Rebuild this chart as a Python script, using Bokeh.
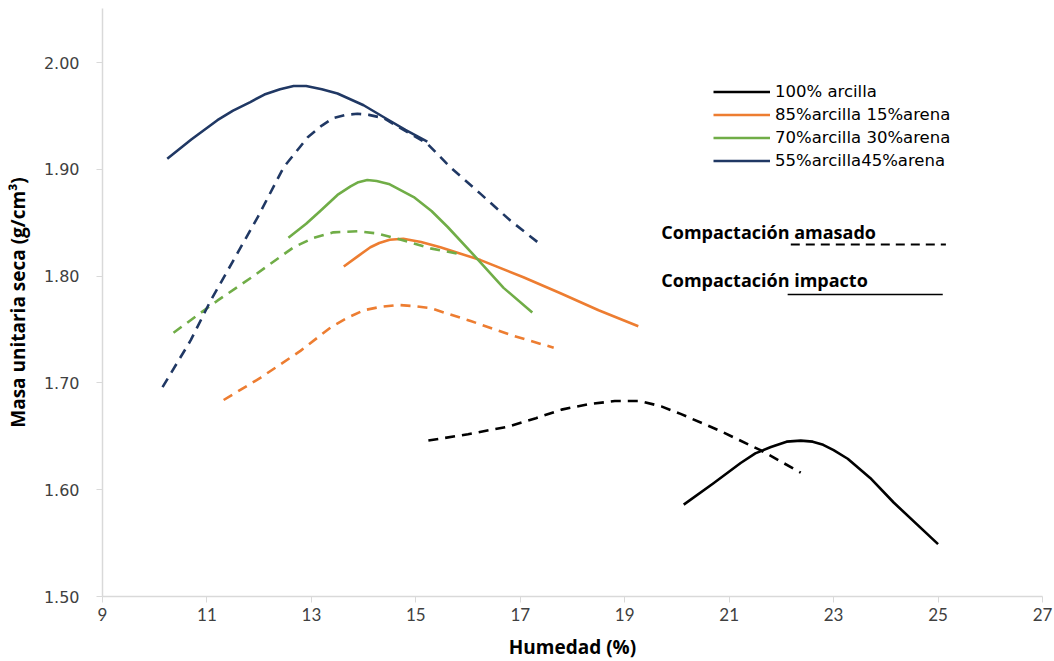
from bokeh.plotting import figure
from bokeh.models import Range1d, FixedTicker, NumeralTickFormatter, Legend, LegendItem, Label
from bokeh.embed import file_html
from bokeh.resources import INLINE

# ---- data ----
x_ticks = [9, 11, 13, 15, 17, 19, 21, 23, 25, 27]
y_ticks = [1.5, 1.6, 1.7, 1.8, 1.9, 2.0]

series_names = ["100% arcilla", "85%arcilla 15%arena", "70%arcilla 30%arena", "55%arcilla45%arena"]
series_colors = ["#000000", "#ED7D31", "#70AD47", "#203864"]

# impacto (solid)
imp_100_x = [20.13, 20.7, 21.22, 21.5, 21.8, 22.1, 22.37, 22.6, 22.8, 23.0, 23.27, 23.7, 24.15, 25.0]
imp_100_y = [1.586, 1.606, 1.625, 1.634, 1.640, 1.645, 1.646, 1.645, 1.642, 1.637, 1.629, 1.611, 1.588, 1.549]
imp_85_x = [13.62, 13.9, 14.13, 14.3, 14.5, 14.76, 15.1, 15.47, 16.24, 17.06, 17.77, 18.5, 19.26]
imp_85_y = [1.809, 1.819, 1.827, 1.831, 1.834, 1.835, 1.832, 1.827, 1.815, 1.799, 1.784, 1.768, 1.753]
imp_70_x = [12.56, 12.9, 13.17, 13.5, 13.75, 13.9, 14.07, 14.25, 14.5, 14.96, 15.3, 15.61, 16.18, 16.68, 17.23]
imp_70_y = [1.836, 1.849, 1.861, 1.876, 1.884, 1.888, 1.890, 1.889, 1.886, 1.874, 1.861, 1.846, 1.816, 1.789, 1.766]
imp_55_x = [10.24, 10.7, 11.20, 11.5, 11.83, 12.1, 12.4, 12.66, 12.9, 13.2, 13.50, 14.0, 14.38, 14.8, 15.22]
imp_55_y = [1.910, 1.928, 1.946, 1.955, 1.963, 1.970, 1.975, 1.978, 1.978, 1.975, 1.971, 1.960, 1.949, 1.937, 1.926]

# amasado (dashed)
ama_100_x = [15.24, 16.0, 16.76, 17.3, 17.79, 18.3, 18.81, 19.30, 19.7, 20.07, 20.83, 21.60, 22.37]
ama_100_y = [1.646, 1.652, 1.659, 1.667, 1.675, 1.680, 1.683, 1.683, 1.678, 1.671, 1.655, 1.637, 1.616]
ama_85_x = [11.32, 12.03, 12.79, 13.37, 13.69, 14.0, 14.3, 14.65, 14.95, 15.28, 16.05, 16.87, 17.64]
ama_85_y = [1.684, 1.705, 1.730, 1.752, 1.761, 1.768, 1.771, 1.773, 1.772, 1.770, 1.758, 1.744, 1.733]
ama_70_x = [10.36, 11.20, 11.83, 12.66, 13.05, 13.42, 13.88, 14.25, 14.65, 15.28, 15.80]
ama_70_y = [1.747, 1.777, 1.798, 1.827, 1.836, 1.841, 1.842, 1.840, 1.835, 1.826, 1.821]
ama_55_x = [10.15, 10.69, 11.07, 11.51, 11.97, 12.47, 12.93, 13.2, 13.42, 13.65, 13.88, 14.1, 14.38, 15.22, 15.66, 16.24, 16.81, 17.43]
ama_55_y = [1.696, 1.740, 1.777, 1.815, 1.855, 1.902, 1.930, 1.941, 1.948, 1.951, 1.952, 1.951, 1.948, 1.924, 1.902, 1.877, 1.852, 1.828]

note_texts = ["Compactación amasado", "Compactación impacto"]

# ---- figure ----
p = figure(frame_width=940, frame_height=588, output_backend="svg", toolbar_location=None,
           x_range=Range1d(9, 27), y_range=Range1d(1.5, 2.0506),
           min_border_left=102, min_border_right=12, min_border_top=8, min_border_bottom=64)
p.outline_line_color = None
p.xgrid.grid_line_color = None
p.ygrid.grid_line_color = None
p.background_fill_color = "white"

p.xaxis.ticker = FixedTicker(ticks=x_ticks)
p.yaxis.ticker = FixedTicker(ticks=y_ticks)
p.yaxis.formatter = NumeralTickFormatter(format="0.00")
p.xaxis.minor_tick_line_color = None
p.yaxis.minor_tick_line_color = None
for ax in (p.xaxis, p.yaxis):
    ax.axis_line_color = "#D9D9D9"
    ax.axis_line_width = 1.5
    ax.major_tick_line_color = "#D9D9D9"
    ax.major_tick_in = 0
    ax.major_tick_out = 6
    ax.major_label_text_color = "#404040"
    ax.axis_label_text_color = "#000000"
    ax.axis_label_text_font_style = "bold"
    ax.axis_label_text_font = "Open Sans"
    ax.axis_label_text_font_size = "19px"

p.xaxis.major_label_text_font = "Lato"
p.xaxis.major_label_text_font_size = "17px"
p.xaxis.major_label_standoff = 5
p.xaxis.axis_label = "Humedad (%)"
p.xaxis.axis_label_standoff = 10

p.yaxis.major_label_text_font = "DejaVu Sans"
p.yaxis.major_label_text_font_size = "16px"
p.yaxis.major_label_standoff = 17
p.yaxis.axis_label = "Masa unitaria seca (g/cm³)"
p.yaxis.axis_label_standoff = 10

imp = [(imp_100_x, imp_100_y), (imp_85_x, imp_85_y), (imp_70_x, imp_70_y), (imp_55_x, imp_55_y)]
ama = [(ama_100_x, ama_100_y), (ama_85_x, ama_85_y), (ama_70_x, ama_70_y), (ama_55_x, ama_55_y)]

items = []
for (ix, iy), (ax_, ay), name, col in zip(imp, ama, series_names, series_colors):
    p.line(ax_, ay, line_color=col, line_width=2.6, line_dash="10 7", line_join="round")
    r = p.line(ix, iy, line_color=col, line_width=2.6, line_join="round")
    items.append(LegendItem(label=name, renderers=[r]))

legend = Legend(items=items, location=(611, 424), border_line_color=None,
                background_fill_alpha=0, padding=0, margin=0, spacing=0,
                label_text_font="DejaVu Sans", label_text_font_size="16.5px",
                label_text_color="#000000", glyph_width=57, glyph_height=23,
                label_height=23, label_standoff=5)
p.add_layout(legend, "center")

# key notes for the line styles
p.add_layout(Label(x=19.70, y=1.841, text=note_texts[0], text_font="Open Sans",
                   text_font_style="bold", text_font_size="18px", text_color="#000000",
                   text_baseline="alphabetic"))
p.add_layout(Label(x=19.70, y=1.796, text=note_texts[1], text_font="Open Sans",
                   text_font_style="bold", text_font_size="18px", text_color="#000000",
                   text_baseline="alphabetic"))
p.line([22.18, 25.15], [1.8296, 1.8296], line_color="#000000", line_width=1.8, line_dash="9 6")
p.line([22.12, 25.09], [1.7828, 1.7828], line_color="#000000", line_width=1.5)

open("out.html", "w").write(file_html(p, INLINE))
